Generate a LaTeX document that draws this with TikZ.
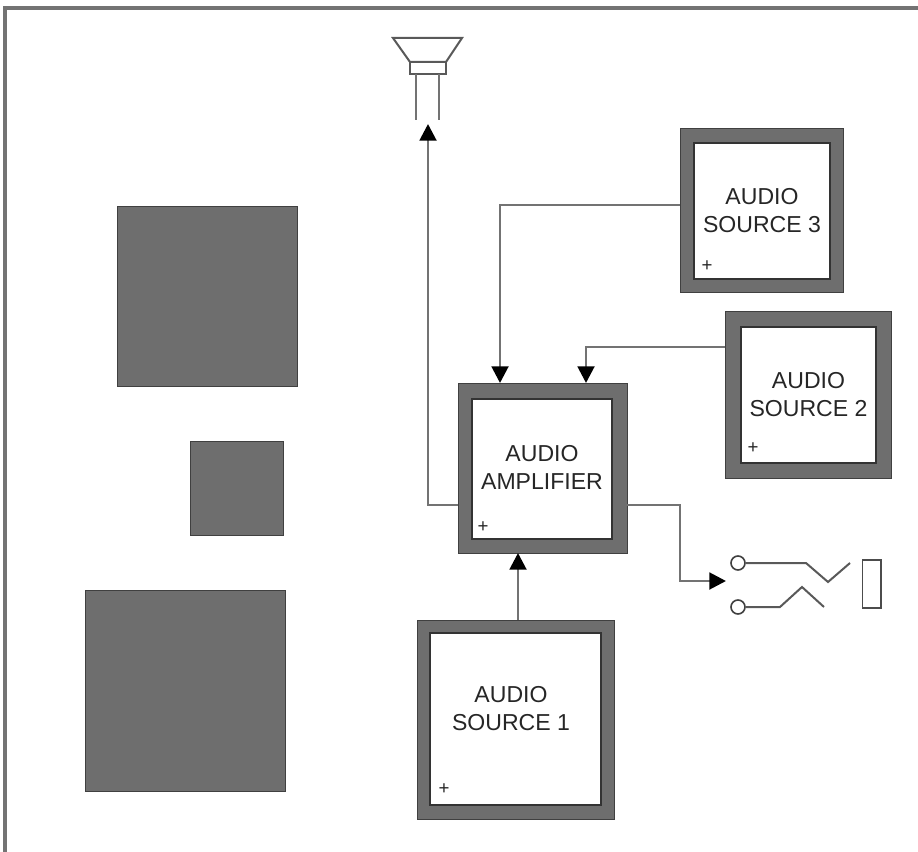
\documentclass[tikz,border=0pt]{standalone}
\usepackage{fontspec}
\setmainfont{Liberation Sans}
\usetikzlibrary{arrows.meta, positioning}
\definecolor{boxgray}{gray}{0.43}
\definecolor{wiregray}{gray}{0.45}

\begin{document}
\begin{tikzpicture}[x=0.75pt, y=-0.75pt,
  solid box/.style 2 args={rectangle, draw=black!75, line width=0.7pt, fill=boxgray, inner sep=0pt, minimum width=#1*0.75pt, minimum height=#2*0.75pt},
  face box/.style 2 args={rectangle, draw=black!80, line width=1pt, fill=white, inner sep=0pt, minimum width=#1*0.75pt, minimum height=#2*0.75pt},
  caption/.style={font=\fontsize{17.3}{21}\selectfont, align=center, text=black!85, inner sep=0pt},
  plus/.style={font=\fontsize{14}{14}\selectfont, text=black!85, inner sep=0pt},
  wire/.style={draw=wiregray, line width=2.2pt},
  arrowwire/.style={wire, -{Triangle[length=12.5pt, width=12.5pt, color=black]}},
  thinline/.style={draw=black!65, line width=1.5pt},
  jackpin/.style={circle, draw=black!75, line width=1.2pt, fill=white, inner sep=0pt, minimum size=10.5pt}]
\useasboundingbox (0,0) rectangle (918,852);

% frame
\draw[draw=black!55, line width=2.6pt] (5,852) -- (5,8) -- (918,8);

% dark blocks
\node[solid box={180}{180}] (blocka) at (207,296) {};
\node[solid box={93}{94}] (blockb) at (236.5,488) {};
\node[solid box={200}{201}] (blockc) at (185,690.5) {};

% boxes
\node[solid box={169}{170}] (amp) at (542.5,468) {};
\node[face box={140}{140}] (ampface) at (542,469) {};
\node[caption] (amptext) at (542,467) {AUDIO\\AMPLIFIER};
\node[plus] (ampplus) at (483,527) {+};
\node[solid box={163}{164}] (srcthree) at (761.5,210) {};
\node[face box={136}{136}] (srcthreeface) at (762,211) {};
\node[caption] (srcthreetext) at (762,211) {AUDIO\\SOURCE 3};
\node[plus] (srcthreeplus) at (707,266) {+};
\node[solid box={166}{167}] (srctwo) at (808,394.5) {};
\node[face box={135}{136}] (srctwoface) at (808.5,395) {};
\node[caption] (srctwotext) at (808.5,395) {AUDIO\\SOURCE 2};
\node[plus] (srctwoplus) at (753,448) {+};
\node[solid box={197}{199}] (srcone) at (515.5,719.5) {};
\node[face box={171}{172}] (srconeface) at (515.5,719) {};
\node[caption] (srconetext) at (511,709) {AUDIO\\SOURCE 1};
\node[plus] (srconeplus) at (444,789) {+};

% speaker
\draw[thinline, fill=white] (393,38) -- (462,38) -- (446,62) -- (410,62) -- cycle;
\draw[thinline, fill=white] (410,62) rectangle (446,74);
\draw[wire] (416,74) -- (416,120);
\draw[wire] (439,74) -- (439,120);

% jack
\node[jackpin] (pintop) at (738,563) {};
\node[jackpin] (pinbot) at (738,607) {};
\coordinate (jacktop) at (850,563);
\coordinate (jackbot) at (824,607);
\draw[thinline] (pintop) -- (806,563) -- (828,582) -- (jacktop);
\draw[thinline] (pinbot) -- (780,607) -- (802,587) -- (jackbot);
\node[rectangle, draw=black!70, line width=1pt, fill=white, inner sep=0pt, minimum width=14pt, minimum height=36pt] (plug) at (871.5,584) {};

% connectors
\coordinate (ampleft) at (458,505);
\coordinate (ampright) at (627,505);
\coordinate (spkin) at (428,124);
\coordinate (ampinthree) at (500,383);
\coordinate (ampintwo) at (586,383);
\coordinate (jackin) at (726,581);
\coordinate (srcthreeout) at (680,205);
\coordinate (srctwoout) at (725,347);
\coordinate (ampinone) at (518,553);
\coordinate (srconeout) at (518,620);
\draw[arrowwire] (ampleft) -| (spkin);
\draw[arrowwire] (srcthreeout) -| (ampinthree);
\draw[arrowwire] (srctwoout) -| (ampintwo);
\draw[arrowwire] (srconeout) -- (ampinone);
\draw[arrowwire] (ampright) -- (680,505) |- (jackin);
\end{tikzpicture}
\end{document}
